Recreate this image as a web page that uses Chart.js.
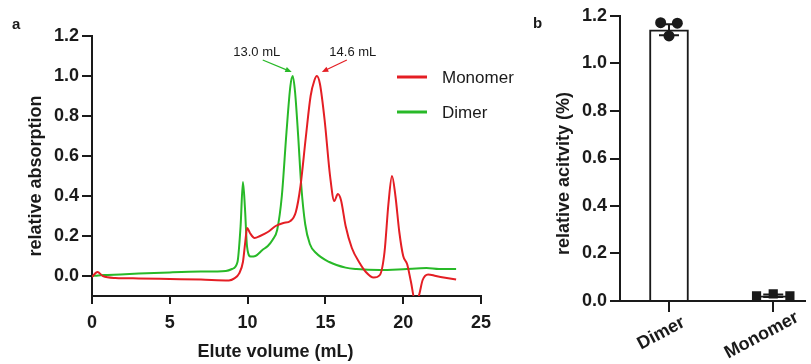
<!DOCTYPE html>
<html>
<head>
<meta charset="utf-8">
<script src="https://cdn.jsdelivr.net/npm/chart.js@4.4.0/dist/chart.umd.min.js"></script>
<style>
  html, body { margin: 0; padding: 0; background: #fff; overflow: hidden; }
  #wrap { position: relative; width: 811px; height: 364px; }
  #chart-a { position: absolute; left: 0; top: 0; }
  #chart-b { position: absolute; left: 520px; top: 0; }
</style>
</head>
<body>
<div id="wrap">
  <canvas id="chart-a" width="520" height="364"></canvas>
  <canvas id="chart-b" width="291" height="364"></canvas>
</div>
<script>
const INK = '#1a1a1a'
const RED = 'rgb(228, 30, 36)'
const GREEN = 'rgb(40, 185, 40)'
const FONT = "'Liberation Sans', Arial, sans-serif"

// panel a: elution traces
const monomerX = [0, 0.35, 0.7, 1.5, 3, 5, 7, 8.8, 9.15, 9.45, 9.7, 9.85, 9.97, 10.15, 10.45, 10.8, 11.3, 11.8, 12.3, 12.75, 13.1, 13.4, 13.75, 14.05, 14.3, 14.45, 14.65, 14.95, 15.3, 15.57, 15.8, 16.0, 16.3, 16.7, 17.2, 17.6, 18.1, 18.5, 18.8, 19.05, 19.28, 19.5, 19.75, 20.0, 20.25, 20.5, 20.75, 21.0, 21.25, 21.6, 22.1, 22.8, 23.4]
const monomerY = [-0.005, 0.02, 0.0, -0.01, -0.012, -0.015, -0.018, -0.022, -0.012, 0.012, 0.07, 0.17, 0.24, 0.215, 0.19, 0.2, 0.22, 0.25, 0.265, 0.275, 0.32, 0.45, 0.7, 0.9, 0.98, 1.0, 0.96, 0.78, 0.5, 0.375, 0.41, 0.38, 0.25, 0.14, 0.065, 0.02, -0.008, 0.005, 0.12, 0.36, 0.5, 0.4, 0.22, 0.1, 0.06, -0.03, -0.12, -0.1, -0.02, 0.008, 0.0, -0.01, -0.018]
const dimerX = [0, 0.4, 1, 3, 5, 7, 8.6, 9.0, 9.35, 9.55, 9.7, 9.83, 9.96, 10.2, 10.5, 10.95, 11.3, 11.6, 11.9, 12.2, 12.5, 12.75, 12.9, 13.05, 13.25, 13.45, 13.7, 14.0, 14.4, 15.25, 16.3, 17.0, 18.5, 20.0, 21.5, 22.3, 23.4]
const dimerY = [0, 0.003, 0.005, 0.012, 0.018, 0.022, 0.025, 0.035, 0.07, 0.25, 0.47, 0.34, 0.15, 0.097, 0.1, 0.13, 0.15, 0.18, 0.23, 0.4, 0.72, 0.95, 1.0, 0.92, 0.7, 0.45, 0.26, 0.16, 0.115, 0.07, 0.042, 0.035, 0.03, 0.034, 0.04, 0.035, 0.035]
const volumeTicks = [0, 5, 10, 15, 20, 25]
const absorptionTicks = [0, 0.2, 0.4, 0.6, 0.8, 1.0, 1.2]
const peakLabels = ['14.6 mL', '13.0 mL']

// panel b: activity
const groups = ['Dimer', 'Monomer']
const activityMean = [1.142, 0.022]
const activitySd = [0.023, 0.005]
const dimerReps = [1.172, 1.116, 1.17]
const monomerReps = [0.022, 0.03, 0.022]
const activityTicks = [0, 0.2, 0.4, 0.6, 0.8, 1.0, 1.2]

const bold = (size) => ({ family: FONT, size: size, weight: 'bold' })

const axisLine = { display: true, color: INK, width: 2 }
const tickMarks = (len) => ({ display: true, offset: false, drawOnChartArea: false, drawTicks: true, tickLength: len, color: INK, lineWidth: 2 })

const toPoints = (xs, ys) => xs.map((x, i) => ({ x: x, y: ys[i] }))

const panelLetter = (letter, x, y) => ({
  id: 'letter-' + letter,
  afterDraw: (chart) => {
    const ctx = chart.ctx
    ctx.save()
    ctx.fillStyle = INK
    ctx.font = 'bold 15px ' + FONT
    ctx.textBaseline = 'alphabetic'
    ctx.fillText(letter, x, y)
    ctx.restore()
  }
})

// axis titles, drawn by hand so they can sit a little off-centre like the original
const axisTitles = (yText, yShift, xText, xShift) => ({
  id: 'axisTitles',
  afterDraw: (chart) => {
    const ctx = chart.ctx
    const area = chart.chartArea
    ctx.save()
    ctx.fillStyle = INK
    ctx.font = 'bold 18px ' + FONT
    ctx.textAlign = 'center'
    ctx.textBaseline = 'middle'
    ctx.save()
    ctx.translate(chart.scales.y.left + 14, (area.top + area.bottom) / 2 + yShift)
    ctx.rotate(-Math.PI / 2)
    ctx.fillText(yText, 0, 0)
    ctx.restore()
    if (xText) ctx.fillText(xText, (area.left + area.right) / 2 + xShift, chart.height - 12)
    ctx.restore()
  }
})

const drawArrow = (ctx, x0, y0, x1, y1, color) => {
  const ang = Math.atan2(y1 - y0, x1 - x0)
  const head = 7
  ctx.strokeStyle = color
  ctx.fillStyle = color
  ctx.lineWidth = 1.2
  ctx.beginPath()
  ctx.moveTo(x0, y0)
  ctx.lineTo(x1 - Math.cos(ang) * head * 0.8, y1 - Math.sin(ang) * head * 0.8)
  ctx.stroke()
  ctx.beginPath()
  ctx.moveTo(x1, y1)
  ctx.lineTo(x1 - head * Math.cos(ang - 0.4), y1 - head * Math.sin(ang - 0.4))
  ctx.lineTo(x1 - head * Math.cos(ang + 0.4), y1 - head * Math.sin(ang + 0.4))
  ctx.closePath()
  ctx.fill()
}

// arrows + labels pointing at each trace's maximum
const peakNotes = {
  id: 'peakNotes',
  afterDatasetsDraw: (chart) => {
    const ctx = chart.ctx
    const xs = chart.scales.x
    const ys = chart.scales.y
    ctx.save()
    ctx.font = '13px ' + FONT
    ctx.textAlign = 'center'
    ctx.textBaseline = 'middle'
    chart.data.datasets.forEach((ds, i) => {
      let top = ds.data[0]
      ds.data.forEach(p => { if (p.y > top.y) top = p })
      const px = xs.getPixelForValue(top.x)
      const py = ys.getPixelForValue(top.y)
      const side = i === 0 ? 1 : -1
      drawArrow(ctx, px + side * 30, py - 16, px + (side > 0 ? 5 : -1), py - 4, ds.borderColor)
      ctx.fillStyle = INK
      ctx.fillText(peakLabels[i], px + side * 36, py - 24)
    })
    ctx.restore()
  }
}

const traceLegend = {
  id: 'traceLegend',
  afterDraw: (chart) => {
    const ctx = chart.ctx
    ctx.save()
    ctx.font = '17px ' + FONT
    ctx.textBaseline = 'middle'
    chart.data.datasets.forEach((ds, i) => {
      const y = 77 + i * 35
      ctx.strokeStyle = ds.borderColor
      ctx.lineWidth = 3
      ctx.beginPath()
      ctx.moveTo(397, y)
      ctx.lineTo(427, y)
      ctx.stroke()
      ctx.fillStyle = INK
      ctx.fillText(ds.label, 442, y + 1)
    })
    ctx.restore()
  }
}

new Chart(document.getElementById('chart-a'), {
  type: 'line',
  data: {
    datasets: [
      { label: 'Monomer', data: toPoints(monomerX, monomerY), borderColor: RED, borderWidth: 2, pointRadius: 0, cubicInterpolationMode: 'monotone' },
      { label: 'Dimer', data: toPoints(dimerX, dimerY), borderColor: GREEN, borderWidth: 2, pointRadius: 0, cubicInterpolationMode: 'monotone' }
    ]
  },
  options: {
    responsive: false,
    animation: false,
    events: [],
    layout: { padding: { left: 22, top: 36, right: 39, bottom: 0 } },
    plugins: { legend: { display: false }, tooltip: { enabled: false } },
    scales: {
      x: {
        type: 'linear',
        min: 0,
        max: 25,
        afterBuildTicks: (s) => { s.ticks = volumeTicks.map(v => ({ value: v })) },
        afterFit: (s) => { s.height = 68 },
        border: axisLine,
        grid: tickMarks(8),
        ticks: { color: INK, font: bold(18), padding: 8, maxRotation: 0 }
      },
      y: {
        min: -0.1,
        max: 1.2,
        afterBuildTicks: (s) => { s.ticks = absorptionTicks.map(v => ({ value: v })) },
        afterFit: (s) => { s.width = 70 },
        border: axisLine,
        grid: tickMarks(10),
        ticks: { color: INK, font: bold(18), padding: 3, callback: (v) => v.toFixed(1) }
      }
    }
  },
  plugins: [peakNotes, traceLegend, axisTitles('relative absorption', 10, 'Elute volume (mL)', -11), panelLetter('a', 12, 29)]
})

// panel b helpers
const errorBars = {
  id: 'errorBars',
  afterDatasetDraw: (chart, args) => {
    if (args.meta.type !== 'bar') return
    const ctx = chart.ctx
    const ys = chart.scales.y
    ctx.save()
    ctx.strokeStyle = INK
    ctx.lineWidth = 2
    args.meta.data.forEach((bar, i) => {
      const lo = ys.getPixelForValue(activityMean[i] - activitySd[i])
      const hi = ys.getPixelForValue(activityMean[i] + activitySd[i])
      ctx.beginPath()
      ctx.moveTo(bar.x, lo)
      ctx.lineTo(bar.x, hi)
      ctx.moveTo(bar.x - 10, lo)
      ctx.lineTo(bar.x + 10, lo)
      ctx.moveTo(bar.x - 10, hi)
      ctx.lineTo(bar.x + 10, hi)
      ctx.stroke()
    })
    ctx.restore()
  }
}

const groupLabels = {
  id: 'groupLabels',
  afterDraw: (chart) => {
    const ctx = chart.ctx
    const xs = chart.scales.x
    const angle = 28 * Math.PI / 180
    ctx.save()
    ctx.fillStyle = INK
    ctx.font = 'bold 18px ' + FONT
    ctx.textBaseline = 'middle'
    ctx.textAlign = 'left'
    groups.forEach((g, i) => {
      const w = ctx.measureText(g).width
      ctx.save()
      ctx.translate(xs.getPixelForValue(i) - 1.5, 330)
      ctx.rotate(-angle)
      ctx.fillText(g, -0.64 * w, 0)
      ctx.restore()
    })
    ctx.restore()
  }
}

const spread = [0.08, 0.16]
const repPoints = [dimerReps, monomerReps].flatMap((reps, g) =>
  reps.map((v, k) => ({ x: g + (k - 1) * spread[g], y: v })))

new Chart(document.getElementById('chart-b'), {
  data: {
    datasets: [
      {
        type: 'bar',
        label: 'mean',
        data: activityMean.map((v, i) => ({ x: i, y: v })),
        backgroundColor: '#ffffff',
        borderColor: INK,
        borderWidth: 2,
        barThickness: 39,
        order: 2
      },
      {
        type: 'scatter',
        label: 'replicates',
        data: repPoints,
        backgroundColor: INK,
        borderColor: INK,
        borderWidth: 0,
        pointStyle: repPoints.map(p => (p.x < 0.5 ? 'circle' : 'rect')),
        pointRadius: repPoints.map(p => (p.x < 0.5 ? 5.5 : 6.5)),
        order: 1
      }
    ]
  },
  options: {
    responsive: false,
    animation: false,
    events: [],
    layout: { padding: { left: 30, top: 16, right: 0, bottom: 0 } },
    plugins: { legend: { display: false }, tooltip: { enabled: false } },
    scales: {
      x: {
        type: 'linear',
        offset: false,
        min: -0.47,
        max: 1.30,
        afterBuildTicks: (s) => { s.ticks = groups.map((g, i) => ({ value: i })) },
        afterFit: (s) => { s.height = 63 },
        border: axisLine,
        grid: tickMarks(11),
        ticks: { display: false }
      },
      y: {
        min: 0,
        max: 1.2,
        afterBuildTicks: (s) => { s.ticks = activityTicks.map(v => ({ value: v })) },
        afterFit: (s) => { s.width = 70 },
        border: axisLine,
        grid: tickMarks(10),
        ticks: { color: INK, font: bold(18), padding: 3, callback: (v) => v.toFixed(1) }
      }
    }
  },
  plugins: [errorBars, groupLabels, axisTitles('relative acitvity (%)', 15, null, 0), panelLetter('b', 13, 28)]
})
</script>
</body>
</html>
